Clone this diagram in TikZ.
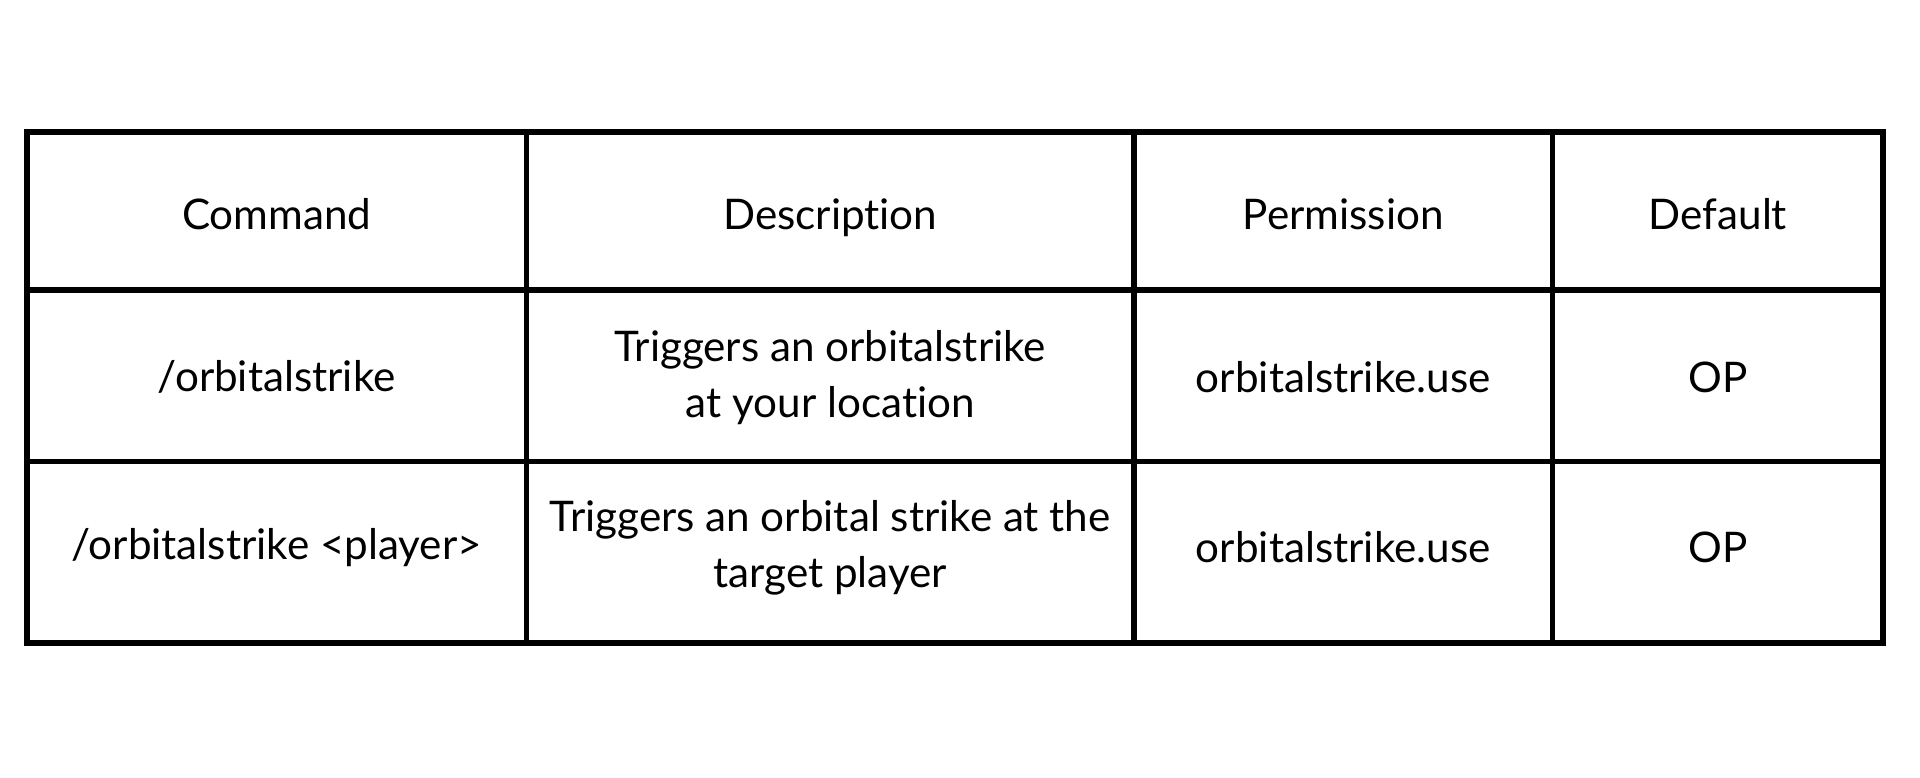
\documentclass[tikz,border=0pt]{standalone}
\usepackage{fontspec}
\setmainfont[Ligatures=NoCommon]{Lato}
\usepackage{xcolor}
\begin{document}
\begin{tikzpicture}[x=0.01cm,y=0.01cm, font=\fontsize{9.8}{13}\selectfont,
  cell/.style={align=center, inner sep=0pt},
  rule/.style={black, line width=1.3pt}]
  \useasboundingbox[fill=white] (0,0) rectangle (1568,635);
  % grid
  \draw[rule] (22,110) rectangle (1538,527);
  \draw[rule] (22,398) -- (1538,398);
  \draw[rule] (22,258) -- (1538,258);
  \draw[rule] (430,110) -- (430,527);
  \draw[rule] (926,110) -- (926,527);
  \draw[rule] (1268,110) -- (1268,527);
  % header
  \node[cell] (hcmd) at (226,460) {Command};
  \node[cell] (hdesc) at (678,457) {Description};
  \node[cell] (hperm) at (1097,460) {Permission};
  \node[cell] (hdef) at (1403,460) {Default};
  % row 1
  \node[cell] (cmdA) at (226,327) {/orbitalstrike};
  \node[cell] (descA) at (678,327) {Triggers an orbitalstrike\\at your location};
  \node[cell] (permA) at (1097,327) {orbitalstrike.use};
  \node[cell] (defA) at (1403,327) {OP};
  % row 2
  \node[cell] (cmdB) at (226,188) {/orbitalstrike <player>};
  \node[cell] (descB) at (678,188) {Triggers an orbital strike at the\\target player};
  \node[cell] (permB) at (1097,188) {orbitalstrike.use};
  \node[cell] (defB) at (1403,188) {OP};
\end{tikzpicture}
\end{document}
